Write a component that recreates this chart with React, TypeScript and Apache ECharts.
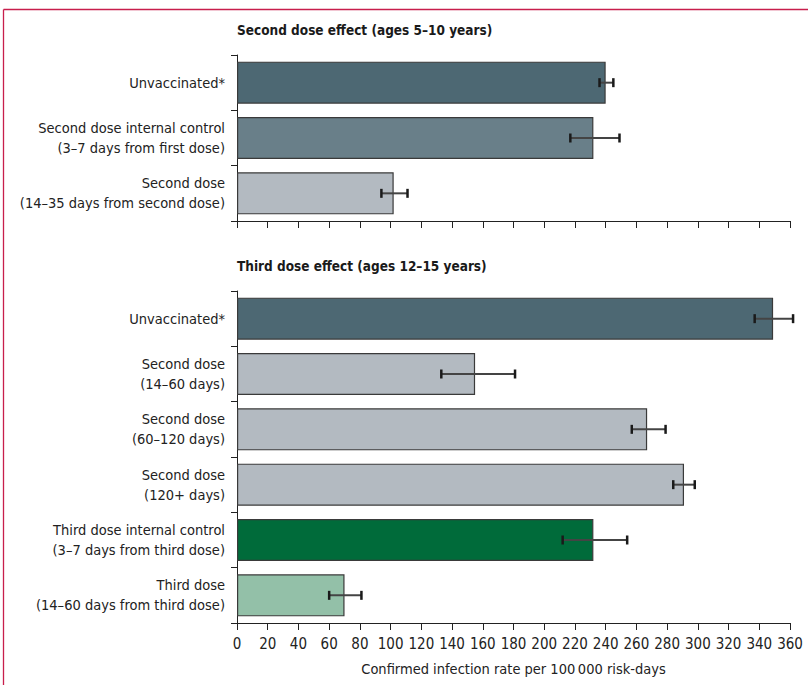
import React, { useEffect, useRef } from "react";
import * as echarts from "echarts";

const topTitle = "Second dose effect (ages 5–10 years)";
const bottomTitle = "Third dose effect (ages 12–15 years)";
const topCategories = [
  "Unvaccinated*",
  "Second dose internal control\n(3–7 days from first dose)",
  "Second dose\n(14–35 days from second dose)",
];
const topValues = [240, 232, 102];
const topLow = [236, 217, 94];
const topHigh = [245, 249, 111];

const bottomCategories = [
  "Unvaccinated*",
  "Second dose\n(14–60 days)",
  "Second dose\n(60–120 days)",
  "Second dose\n(120+ days)",
  "Third dose internal control\n(3–7 days from third dose)",
  "Third dose\n(14–60 days from third dose)",
];
const bottomValues = [349, 155, 267, 291, 232, 70];
const bottomLow = [337, 133, 257, 284, 212, 60];
const bottomHigh = [362, 181, 279, 298, 254, 81];

const xMin = 0;
const xMax = 360;
const xInterval = 20;
const xAxisName = "Confirmed infection rate per 100\u2009000 risk-days";

const topColors = ["#4d6873", "#697f89", "#b3bac1"];
const bottomColors = ["#4d6873", "#b3bac1", "#b3bac1", "#b3bac1", "#006b3a", "#93c0a8"];

const FONT = "'DejaVu Sans Condensed', 'Liberation Sans Narrow', sans-serif";
const AXIS_COLOR = "#222";
const TEXT_COLOR = "#222";

function errorRender(params: any, api: any) {
  const cat = api.value(0);
  const p1 = api.coord([api.value(1), cat]);
  const p2 = api.coord([api.value(2), cat]);
  const h = 4.5;
  return {
    type: "group",
    children: [
      { type: "line", shape: { x1: p1[0], y1: p1[1], x2: p2[0], y2: p2[1] }, style: { stroke: "#444", lineWidth: 2 } },
      { type: "line", shape: { x1: p1[0], y1: p1[1] - h, x2: p1[0], y2: p1[1] + h }, style: { stroke: "#1a1a1a", lineWidth: 2.5 } },
      { type: "line", shape: { x1: p2[0], y1: p2[1] - h, x2: p2[0], y2: p2[1] + h }, style: { stroke: "#1a1a1a", lineWidth: 2.5 } },
    ],
  };
}

export default function App() {
  const ref = useRef<HTMLDivElement>(null);
  useEffect(() => {
    if (!ref.current) return;
    const chart = echarts.init(ref.current, null, { renderer: "svg" });
    const yAxisBase = (cats: string[], gridIndex: number) => ({
      type: "category",
      gridIndex,
      data: cats,
      inverse: true,
      axisLine: { show: true, lineStyle: { color: AXIS_COLOR, width: 1 } },
      axisTick: { show: true, length: 6, lineStyle: { color: AXIS_COLOR } },
      axisLabel: { fontFamily: FONT, fontSize: 14.5, color: TEXT_COLOR, margin: 12, lineHeight: 20, align: "right" },
    });
    const xAxisBase = (gridIndex: number, labels: boolean) => ({
      type: "value",
      gridIndex,
      min: xMin,
      max: xMax,
      interval: xInterval,
      splitLine: { show: false },
      axisLine: { show: true, lineStyle: { color: AXIS_COLOR, width: 1 } },
      axisTick: { show: true, length: 7, lineStyle: { color: AXIS_COLOR } },
      axisLabel: { show: labels, fontFamily: FONT, fontSize: 15, color: TEXT_COLOR, margin: 13 },
      name: labels ? xAxisName : "",
      nameLocation: "middle",
      nameGap: 38,
      nameTextStyle: { fontFamily: FONT, fontSize: 14.5, color: TEXT_COLOR },
    });
    chart.setOption({
      animation: false,
      backgroundColor: "#fff",
      title: [
        { text: topTitle, left: 237, top: 23, padding: 0, textStyle: { fontFamily: FONT, fontSize: 13.5, fontWeight: "bold", color: "#1a1a1a" } },
        { text: bottomTitle, left: 237, top: 259, padding: 0, textStyle: { fontFamily: FONT, fontSize: 13.5, fontWeight: "bold", color: "#1a1a1a" } },
      ],
      grid: [
        { left: 237, right: 18, top: 55, height: 166 },
        { left: 237, right: 18, top: 291, height: 332 },
      ],
      xAxis: [xAxisBase(0, false), xAxisBase(1, true)],
      yAxis: [yAxisBase(topCategories, 0), yAxisBase(bottomCategories, 1)],
      series: [
        {
          type: "bar",
          xAxisIndex: 0,
          yAxisIndex: 0,
          barWidth: 42,
          data: topValues.map((v, i) => ({ value: v, itemStyle: { color: topColors[i] } })),
          itemStyle: { borderColor: "#3a3a3a", borderWidth: 1.2 },
        },
        {
          type: "custom",
          xAxisIndex: 0,
          yAxisIndex: 0,
          clip: false,
          z: 5,
          renderItem: errorRender,
          encode: { x: [1, 2], y: 0 },
          data: topValues.map((_, i) => [i, topLow[i], topHigh[i]]),
        },
        {
          type: "bar",
          xAxisIndex: 1,
          yAxisIndex: 1,
          barWidth: 42,
          data: bottomValues.map((v, i) => ({ value: v, itemStyle: { color: bottomColors[i] } })),
          itemStyle: { borderColor: "#3a3a3a", borderWidth: 1.2 },
        },
        {
          type: "custom",
          xAxisIndex: 1,
          yAxisIndex: 1,
          clip: false,
          z: 5,
          renderItem: errorRender,
          encode: { x: [1, 2], y: 0 },
          data: bottomValues.map((_, i) => [i, bottomLow[i], bottomHigh[i]]),
        },
      ],
      graphic: [
        { type: "line", shape: { x1: 3.5, y1: 9.5, x2: 808, y2: 9.5 }, style: { stroke: "#c81e4c", lineWidth: 1.3 } },
        { type: "line", shape: { x1: 3.5, y1: 9.5, x2: 3.5, y2: 685 }, style: { stroke: "#c81e4c", lineWidth: 1.3 } },
      ],
    });
    return () => chart.dispose();
  }, []);
  return <div ref={ref} style={{ position: "fixed", left: 0, top: 0, width: 808, height: 685 }} />;
}
